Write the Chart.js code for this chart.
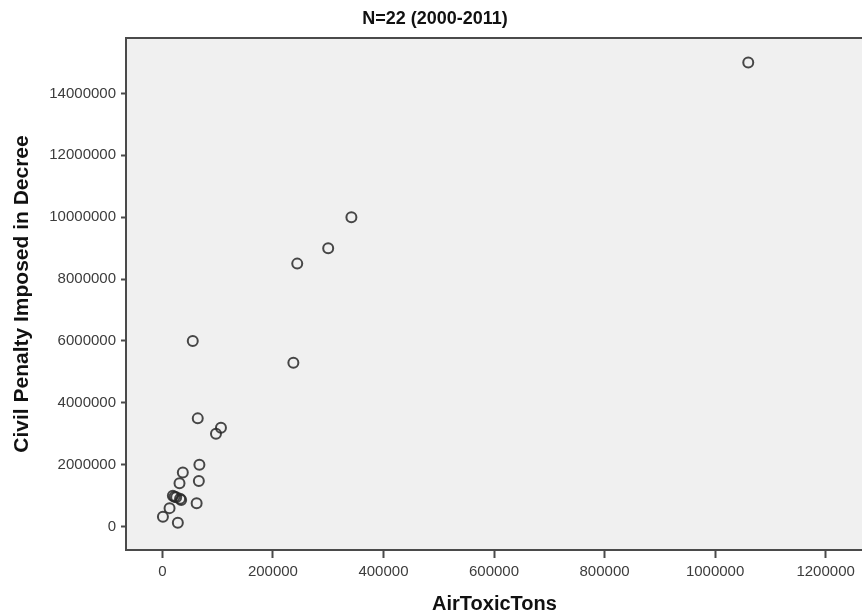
<!DOCTYPE html>
<html>
<head>
<meta charset="utf-8">
<script src="https://cdn.jsdelivr.net/npm/chart.js@4/dist/chart.umd.min.js"></script>
<style>
  html, body { margin: 0; padding: 0; background: #fff; overflow: hidden; }
  #wrap { width: 870px; height: 616px; }
</style>
</head>
<body>
<div id="wrap"><canvas id="scatter" width="870" height="616"></canvas></div>
<script>
// Datos (N=22)
const airToxicTons = [
  1060000, 342000, 300000, 244000, 55000, 237000, 64000, 106000, 97000,
  67000, 37000, 66000, 31000, 22000, 19000, 25000, 34000, 32000, 62000,
  13000, 1000, 28000
];
const civilPenalty = [
  15000000, 10000000, 9000000, 8500000, 6000000, 5300000, 3500000, 3200000, 3000000,
  2000000, 1750000, 1480000, 1400000, 970000, 1000000, 950000, 860000, 900000, 760000,
  600000, 320000, 130000
];
const xTickValues = [0, 200000, 400000, 600000, 800000, 1000000, 1200000];
const yTickValues = [0, 2000000, 4000000, 6000000, 8000000, 10000000, 12000000, 14000000];

const axisColor = "#4a4a4a";
const fontFamily = "Liberation Sans, Arial, sans-serif";

// Fondo gris del área y línea superior
const plotFrame = {
  id: "plotFrame",
  beforeDraw(chart) {
    const { ctx, chartArea: a } = chart;
    ctx.save();
    ctx.fillStyle = "#f0f0f0";
    ctx.fillRect(a.left, a.top, a.right - a.left, a.bottom - a.top);
    ctx.strokeStyle = axisColor;
    ctx.lineWidth = 2;
    ctx.beginPath();
    ctx.moveTo(a.left, a.top);
    ctx.lineTo(a.right, a.top);
    ctx.stroke();
    ctx.restore();
  },
};

new Chart(document.getElementById("scatter"), {
  type: "scatter",
  data: {
    datasets: [
      {
        data: airToxicTons.map((x, i) => ({ x: x, y: civilPenalty[i] })),
        pointStyle: "circle",
        pointRadius: 5,
        pointBorderWidth: 2,
        pointBorderColor: "rgba(40, 40, 40, 0.85)",
        pointBackgroundColor: "rgba(0, 0, 0, 0)",
      },
    ],
  },
  options: {
    responsive: false,
    animation: false,
    layout: { padding: 0 },
    plugins: {
      legend: { display: false },
      tooltip: { enabled: false },
      title: {
        display: true,
        text: "N=22 (2000-2011)",
        color: "#111",
        font: { family: fontFamily, size: 18, weight: "bold" },
        padding: { top: 8, bottom: 8.4 },
      },
    },
    scales: {
      x: {
        type: "linear",
        min: -65800,
        max: 1267600,
        afterBuildTicks: (scale) => {
          scale.ticks = xTickValues.map((v) => ({ value: v }));
        },
        afterFit: (scale) => {
          scale.height = 66;
        },
        grid: {
          drawOnChartArea: false,
          drawTicks: true,
          tickLength: 8,
          tickWidth: 2,
          tickColor: axisColor,
        },
        border: { display: true, color: axisColor, width: 2 },
        ticks: {
          color: "#3c3c3c",
          padding: 5,
          maxRotation: 0,
          autoSkip: false,
          callback: (value) => String(value),
          font: { family: fontFamily, size: 15 },
        },
        title: {
          display: true,
          text: "AirToxicTons",
          color: "#111",
          padding: { top: 0, bottom: 0 },
          font: { family: fontFamily, size: 20, weight: "bold" },
        },
      },
      y: {
        type: "linear",
        min: -753000,
        max: 15790000,
        afterBuildTicks: (scale) => {
          scale.ticks = yTickValues.map((v) => ({ value: v }));
        },
        afterFit: (scale) => {
          scale.width = 126;
        },
        grid: {
          drawOnChartArea: false,
          drawTicks: true,
          tickLength: 5,
          tickWidth: 2,
          tickColor: axisColor,
        },
        border: { display: true, color: axisColor, width: 2 },
        ticks: {
          color: "#3c3c3c",
          padding: 5,
          autoSkip: false,
          callback: (value) => String(value),
          font: { family: fontFamily, size: 15 },
        },
        title: {
          display: true,
          text: "Civil Penalty Imposed in Decree",
          color: "#111",
          padding: { top: 10, bottom: 0 },
          font: { family: fontFamily, size: 21, weight: "bold" },
        },
      },
    },
  },
  plugins: [plotFrame],
});
</script>
</body>
</html>
